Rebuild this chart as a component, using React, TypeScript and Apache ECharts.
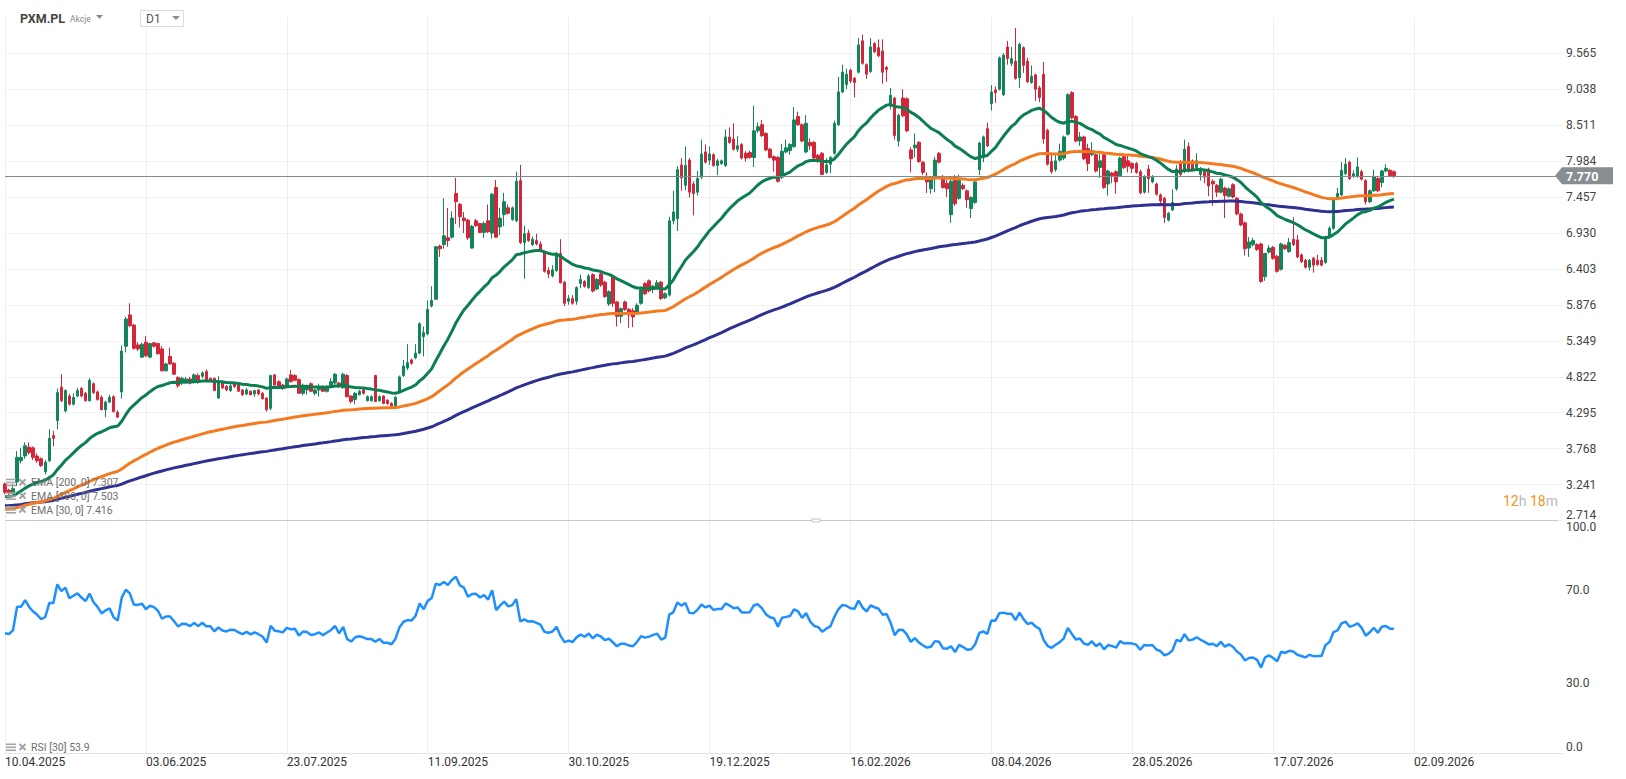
import React, { useEffect, useRef } from "react";
import * as echarts from "echarts";

// ---------- axis ticks ----------
const TICK_LABELS = [
  "10.04.2025", "03.06.2025", "23.07.2025", "11.09.2025", "30.10.2025", "19.12.2025",
  "16.02.2026", "08.04.2026", "28.05.2026", "17.07.2026", "02.09.2026",
];
const TICK_STEP = 35; // trading sessions between date labels
const TOTAL_SLOTS = 388; // sessions shown on the time axis (incl. empty future)
const PRICE_MIN = 2.714;
const PRICE_MAX = 10.092;
const PRICE_STEP = 0.527;
const RSI_TICKS = [0, 30, 70, 100];

// ---------- daily OHLC (PXM.PL) ----------
const OPEN = [
  3.25, 3.16, 3.12, 3.28, 3.59, 3.66, 3.79, 3.78, 3.66, 3.62,
  3.43, 3.59, 3.96, 4.18, 4.67, 4.32, 4.54, 4.42, 4.54, 4.65,
  4.58, 4.47, 4.72, 4.60, 4.52, 4.34, 4.45, 4.53, 4.30, 4.60,
  5.27, 5.73, 5.58, 5.29, 5.11, 5.33, 5.11, 5.32, 5.31, 5.23,
  4.91, 5.12, 5.02, 4.81, 4.74, 4.74, 4.79, 4.74, 4.84, 4.83,
  4.90, 4.80, 4.80, 4.51, 4.75, 4.68, 4.62, 4.73, 4.70, 4.63,
  4.57, 4.61, 4.57, 4.63, 4.58, 4.51, 4.36, 4.85, 4.75, 4.70,
  4.68, 4.85, 4.84, 4.78, 4.58, 4.63, 4.72, 4.58, 4.63, 4.68,
  4.61, 4.68, 4.73, 4.73, 4.66, 4.84, 4.54, 4.49, 4.56, 4.63,
  4.47, 4.47, 4.84, 4.47, 4.54, 4.48, 4.43, 4.39, 4.60, 4.84,
  4.95, 5.07, 5.10, 5.17, 5.41, 5.45, 5.86, 5.96, 6.74, 6.76,
  6.86, 6.87, 7.51, 7.35, 7.15, 7.12, 6.71, 7.11, 7.07, 6.94,
  7.11, 6.93, 7.60, 7.02, 7.20, 7.30, 7.13, 7.11, 7.70, 6.79,
  6.93, 6.76, 6.82, 6.77, 6.64, 6.38, 6.30, 6.38, 6.63, 6.21,
  5.93, 5.97, 5.93, 6.19, 6.22, 6.13, 6.32, 6.11, 6.33, 6.21,
  5.89, 6.29, 5.92, 5.71, 5.92, 5.81, 5.79, 5.76, 5.90, 6.19,
  6.23, 6.12, 6.14, 6.21, 5.98, 6.02, 7.11, 7.14, 7.93, 7.63,
  8.00, 7.65, 7.53, 7.75, 8.12, 8.00, 8.08, 7.92, 7.95, 7.92,
  8.34, 8.31, 8.16, 8.23, 8.10, 8.11, 8.04, 8.43, 8.52, 8.39,
  8.16, 8.05, 8.04, 7.75, 8.12, 8.14, 8.20, 8.64, 8.52, 8.12,
  8.26, 8.26, 8.07, 8.10, 7.82, 7.94, 8.10, 8.52, 9.00, 9.11,
  9.32, 9.20, 9.29, 9.75, 9.40, 9.30, 9.71, 9.65, 9.60, 9.36,
  8.80, 8.91, 8.28, 8.91, 8.90, 8.15, 8.18, 8.26, 7.97, 7.76,
  7.58, 7.73, 8.10, 7.73, 7.66, 7.20, 7.76, 7.44, 7.63, 7.55,
  7.29, 7.38, 7.86, 8.04, 8.46, 8.83, 9.03, 9.04, 8.96, 9.66,
  9.42, 9.45, 9.21, 9.65, 9.45, 9.14, 9.25, 9.06, 9.26, 8.44,
  7.98, 7.86, 8.00, 8.03, 8.38, 8.99, 8.64, 8.28, 8.34, 8.17,
  8.08, 8.08, 7.89, 8.08, 7.65, 7.81, 7.83, 7.77, 8.05, 7.99,
  7.95, 7.95, 7.83, 7.53, 7.87, 7.68, 7.65, 7.49, 7.44, 7.12,
  7.27, 7.58, 7.98, 7.83, 8.20, 7.99, 7.89, 7.79, 7.83, 7.87,
  7.69, 7.63, 7.53, 7.59, 7.47, 7.64, 7.44, 7.21, 7.08, 6.71,
  6.76, 6.76, 6.77, 6.29, 6.65, 6.72, 6.59, 6.40, 6.75, 6.66,
  6.84, 6.83, 6.61, 6.53, 6.43, 6.56, 6.53, 6.53, 6.50, 6.87,
  7.00, 7.46, 7.49, 7.80, 7.97, 7.76, 7.76, 7.83, 7.70, 7.39,
  7.55, 7.73, 7.67, 7.84, 7.85, 7.83,
];
const HIGH = [
  3.27, 3.18, 3.25, 3.73, 3.78, 3.86, 3.86, 3.80, 3.70, 3.64,
  3.60, 4.05, 4.03, 4.65, 4.86, 4.64, 4.57, 4.58, 4.66, 4.67,
  4.60, 4.80, 4.74, 4.62, 4.55, 4.47, 4.56, 4.55, 4.33, 5.28,
  5.70, 5.90, 5.60, 5.33, 5.32, 5.42, 5.32, 5.33, 5.32, 5.27,
  5.03, 5.25, 5.04, 4.83, 4.82, 4.82, 4.82, 4.87, 4.87, 4.90,
  4.93, 4.81, 4.81, 4.83, 4.77, 4.70, 4.71, 4.75, 4.72, 4.64,
  4.66, 4.62, 4.63, 4.64, 4.60, 4.52, 4.85, 4.86, 4.77, 4.72,
  4.81, 4.92, 4.86, 4.80, 4.72, 4.71, 4.74, 4.65, 4.72, 4.70,
  4.70, 4.80, 4.88, 4.75, 4.88, 4.86, 4.55, 4.60, 4.63, 4.65,
  4.55, 4.55, 4.85, 4.55, 4.55, 4.49, 4.45, 4.54, 4.84, 5.07,
  5.30, 5.09, 5.30, 5.62, 5.56, 5.94, 6.15, 6.74, 6.76, 7.44,
  7.30, 7.25, 7.74, 7.37, 7.24, 7.14, 7.05, 7.14, 7.08, 7.10,
  7.35, 7.52, 7.71, 7.30, 7.52, 7.35, 7.32, 7.83, 7.93, 7.04,
  6.98, 6.88, 6.92, 6.81, 6.66, 6.43, 6.46, 6.65, 6.84, 6.23,
  6.02, 6.02, 6.15, 6.32, 6.24, 6.33, 6.34, 6.27, 6.35, 6.23,
  6.09, 6.31, 5.93, 5.84, 5.94, 5.83, 5.83, 5.90, 6.13, 6.21,
  6.25, 6.17, 6.24, 6.23, 6.06, 7.17, 7.55, 7.91, 8.03, 8.20,
  8.03, 7.69, 7.84, 8.30, 8.23, 8.20, 8.10, 8.02, 8.01, 8.45,
  8.48, 8.54, 8.35, 8.25, 8.13, 8.14, 8.80, 8.55, 8.59, 8.41,
  8.18, 8.07, 8.06, 8.24, 8.30, 8.25, 8.78, 8.71, 8.54, 8.66,
  8.32, 8.28, 8.09, 8.12, 8.03, 8.06, 8.58, 9.22, 9.40, 9.34,
  9.34, 9.22, 9.79, 9.84, 9.42, 9.79, 9.73, 9.77, 9.77, 9.38,
  9.06, 8.93, 8.68, 9.04, 8.92, 8.19, 8.39, 8.28, 7.99, 7.82,
  7.74, 8.05, 8.12, 7.78, 7.71, 7.72, 7.78, 7.79, 7.66, 7.57,
  7.47, 7.70, 8.27, 8.36, 8.55, 9.10, 9.08, 9.52, 9.57, 9.75,
  9.66, 9.94, 9.72, 9.67, 9.50, 9.39, 9.27, 9.09, 9.44, 8.46,
  8.11, 8.08, 8.24, 8.36, 8.98, 9.01, 8.66, 8.41, 8.36, 8.24,
  8.26, 8.10, 8.10, 8.10, 7.86, 7.83, 7.85, 8.05, 8.10, 8.07,
  7.97, 7.97, 7.86, 7.78, 7.93, 7.78, 7.67, 7.51, 7.46, 7.24,
  7.57, 7.93, 8.00, 8.30, 8.26, 8.01, 8.10, 7.90, 7.86, 7.89,
  7.72, 7.65, 7.74, 7.61, 7.60, 7.66, 7.46, 7.23, 7.10, 6.87,
  6.86, 6.78, 6.79, 6.64, 6.75, 6.74, 6.61, 6.79, 6.77, 6.86,
  7.16, 6.90, 6.63, 6.55, 6.55, 6.58, 6.61, 6.58, 6.89, 7.03,
  7.45, 7.59, 7.97, 8.03, 7.99, 7.85, 8.04, 7.86, 7.72, 7.57,
  7.86, 7.75, 7.86, 7.94, 7.87, 7.85,
];
const LOW = [
  3.10, 3.08, 3.10, 3.22, 3.55, 3.62, 3.68, 3.60, 3.56, 3.50,
  3.39, 3.57, 3.80, 4.05, 4.45, 4.30, 4.40, 4.40, 4.52, 4.52,
  4.46, 4.46, 4.57, 4.47, 4.33, 4.23, 4.44, 4.30, 4.22, 4.50,
  5.18, 5.55, 5.22, 5.20, 5.10, 5.11, 5.10, 5.25, 5.15, 4.90,
  4.90, 5.00, 4.85, 4.66, 4.70, 4.72, 4.71, 4.72, 4.72, 4.80,
  4.76, 4.75, 4.61, 4.50, 4.64, 4.61, 4.60, 4.66, 4.60, 4.54,
  4.55, 4.55, 4.53, 4.55, 4.49, 4.31, 4.33, 4.69, 4.66, 4.63,
  4.66, 4.74, 4.76, 4.57, 4.55, 4.56, 4.60, 4.55, 4.53, 4.60,
  4.59, 4.66, 4.71, 4.66, 4.65, 4.52, 4.43, 4.42, 4.55, 4.56,
  4.46, 4.46, 4.45, 4.46, 4.42, 4.41, 4.37, 4.38, 4.58, 4.82,
  4.92, 5.00, 5.08, 5.15, 5.12, 5.43, 5.84, 5.95, 6.58, 6.70,
  6.73, 6.85, 7.06, 7.01, 6.93, 6.83, 6.70, 7.02, 6.93, 6.86,
  6.93, 6.85, 6.86, 6.90, 7.03, 7.20, 7.11, 7.09, 6.77, 6.26,
  6.80, 6.74, 6.75, 6.67, 6.35, 6.27, 6.28, 6.36, 6.19, 5.86,
  5.88, 5.88, 5.88, 6.12, 6.13, 6.11, 6.06, 6.09, 6.14, 5.98,
  5.86, 5.85, 5.56, 5.61, 5.79, 5.54, 5.55, 5.74, 5.88, 6.02,
  6.06, 6.05, 6.12, 5.95, 5.96, 6.00, 7.06, 6.96, 7.55, 7.56,
  7.45, 7.19, 7.48, 7.72, 7.95, 7.93, 7.90, 7.78, 7.93, 7.90,
  8.24, 8.14, 8.12, 8.01, 7.98, 8.02, 7.90, 8.40, 8.34, 8.13,
  8.02, 7.83, 7.67, 7.72, 8.10, 8.08, 8.18, 8.50, 8.26, 8.10,
  8.15, 8.01, 7.96, 7.78, 7.80, 7.81, 8.08, 8.50, 8.98, 9.04,
  9.13, 8.92, 9.27, 9.40, 9.19, 9.28, 9.57, 9.51, 9.12, 9.15,
  8.74, 8.30, 8.20, 8.63, 8.41, 7.82, 8.04, 7.96, 7.78, 7.52,
  7.51, 7.53, 7.95, 7.58, 7.46, 7.08, 7.33, 7.42, 7.56, 7.30,
  7.15, 7.36, 7.78, 7.97, 8.19, 8.73, 8.84, 9.02, 8.94, 9.40,
  9.38, 9.18, 9.06, 9.28, 9.13, 9.12, 8.87, 8.85, 8.24, 7.92,
  7.80, 7.83, 7.98, 8.00, 8.36, 8.60, 8.26, 8.21, 8.00, 7.84,
  8.06, 7.82, 7.74, 7.58, 7.48, 7.66, 7.51, 7.75, 7.87, 7.82,
  7.81, 7.80, 7.50, 7.51, 7.52, 7.66, 7.48, 7.35, 7.08, 7.10,
  7.25, 7.55, 7.77, 7.81, 7.82, 7.85, 7.87, 7.70, 7.66, 7.47,
  7.33, 7.46, 7.51, 7.15, 7.45, 7.44, 7.19, 7.03, 6.60, 6.58,
  6.73, 6.67, 6.20, 6.23, 6.63, 6.54, 6.35, 6.38, 6.68, 6.64,
  6.74, 6.56, 6.49, 6.41, 6.38, 6.35, 6.45, 6.44, 6.48, 6.85,
  6.98, 7.44, 7.47, 7.78, 7.71, 7.74, 7.74, 7.70, 7.35, 7.37,
  7.53, 7.53, 7.60, 7.82, 7.75, 7.74,
];
const CLOSE = [
  3.13, 3.12, 3.18, 3.64, 3.64, 3.81, 3.71, 3.64, 3.59, 3.52,
  3.57, 3.92, 3.92, 4.59, 4.47, 4.62, 4.42, 4.52, 4.62, 4.54,
  4.47, 4.77, 4.59, 4.49, 4.34, 4.45, 4.52, 4.31, 4.23, 5.20,
  5.67, 5.57, 5.24, 5.23, 5.30, 5.13, 5.31, 5.27, 5.16, 4.91,
  5.01, 5.01, 4.86, 4.69, 4.80, 4.79, 4.73, 4.85, 4.75, 4.88,
  4.77, 4.77, 4.62, 4.75, 4.66, 4.63, 4.69, 4.68, 4.61, 4.56,
  4.63, 4.56, 4.62, 4.57, 4.50, 4.34, 4.84, 4.70, 4.68, 4.65,
  4.79, 4.75, 4.77, 4.58, 4.70, 4.69, 4.61, 4.63, 4.68, 4.61,
  4.68, 4.75, 4.86, 4.68, 4.86, 4.53, 4.46, 4.58, 4.61, 4.58,
  4.53, 4.53, 4.46, 4.53, 4.43, 4.43, 4.39, 4.52, 4.82, 4.98,
  5.03, 5.02, 5.17, 5.60, 5.47, 5.81, 5.94, 6.73, 6.70, 6.89,
  6.82, 7.15, 7.39, 7.17, 7.11, 6.86, 7.03, 7.04, 6.94, 7.07,
  6.95, 7.50, 6.87, 7.15, 7.39, 7.22, 7.30, 7.69, 6.79, 6.92,
  6.82, 6.84, 6.77, 6.69, 6.37, 6.33, 6.39, 6.63, 6.20, 5.90,
  5.97, 5.90, 6.13, 6.25, 6.15, 6.30, 6.08, 6.25, 6.17, 6.00,
  6.07, 5.90, 5.71, 5.82, 5.81, 5.73, 5.70, 5.87, 6.10, 6.04,
  6.08, 6.15, 6.20, 5.97, 6.04, 7.11, 7.24, 7.86, 7.74, 7.92,
  7.53, 7.51, 7.73, 8.09, 7.97, 8.09, 7.92, 7.99, 7.99, 8.34,
  8.26, 8.16, 8.21, 8.03, 8.03, 8.04, 8.43, 8.49, 8.36, 8.15,
  8.04, 8.00, 7.69, 8.13, 8.18, 8.23, 8.59, 8.52, 8.28, 8.54,
  8.21, 8.03, 7.98, 7.79, 7.93, 8.04, 8.54, 9.00, 9.29, 9.26,
  9.16, 9.14, 9.69, 9.42, 9.26, 9.66, 9.59, 9.53, 9.29, 9.33,
  8.95, 8.36, 8.66, 8.65, 8.43, 8.02, 8.22, 7.98, 7.82, 7.68,
  7.72, 8.00, 7.97, 7.60, 7.58, 7.69, 7.36, 7.70, 7.58, 7.42,
  7.45, 7.68, 8.25, 8.34, 8.21, 9.00, 8.99, 9.50, 9.54, 9.49,
  9.49, 9.20, 9.70, 9.39, 9.15, 9.23, 9.04, 8.92, 8.31, 7.94,
  7.83, 7.99, 8.13, 8.34, 8.96, 8.62, 8.28, 8.34, 8.02, 7.95,
  8.14, 7.84, 7.99, 7.60, 7.84, 7.77, 7.68, 8.03, 7.89, 7.91,
  7.88, 7.82, 7.52, 7.76, 7.73, 7.75, 7.50, 7.40, 7.16, 7.22,
  7.38, 7.87, 7.79, 8.16, 7.84, 7.87, 7.99, 7.86, 7.75, 7.62,
  7.65, 7.53, 7.72, 7.48, 7.58, 7.46, 7.21, 7.05, 6.70, 6.80,
  6.82, 6.69, 6.22, 6.63, 6.71, 6.56, 6.37, 6.77, 6.70, 6.79,
  6.76, 6.58, 6.51, 6.43, 6.53, 6.46, 6.47, 6.46, 6.87, 7.00,
  7.43, 7.51, 7.85, 7.94, 7.73, 7.80, 7.90, 7.72, 7.39, 7.55,
  7.76, 7.55, 7.84, 7.88, 7.77, 7.77,
];

// ---------- indicators (state carried in from the history before the window) ----------
const EMA_PERIODS = [200, 100, 30];
const EMA_PRIOR = [2.93, 2.875, 3.06];
const EMA_COLORS = ["#2e3192", "#f47a1f", "#0b7f52"];
const EMA_LEGEND_VALUES = ["7.307", "7.503", "7.416"];
const RSI_PERIOD = 30;
const RSI_PRIOR_CLOSE = 3.22;
const RSI_PRIOR_GAIN = 0.032;
const RSI_PRIOR_LOSS = 0.027;
const RSI_LEGEND_VALUE = "53.9";

const GREEN = "#12865a";
const RED = "#d4263a";

function ema(period: number, prior: number): number[] {
  const k = 2 / (period + 1);
  let prev = prior;
  return CLOSE.map((c) => {
    prev = prev + k * (c - prev);
    return +prev.toFixed(4);
  });
}

function rsi(): number[] {
  let g = RSI_PRIOR_GAIN;
  let l = RSI_PRIOR_LOSS;
  let prevC = RSI_PRIOR_CLOSE;
  return CLOSE.map((c) => {
    const ch = c - prevC;
    prevC = c;
    g = (g * (RSI_PERIOD - 1) + Math.max(ch, 0)) / RSI_PERIOD;
    l = (l * (RSI_PERIOD - 1) + Math.max(-ch, 0)) / RSI_PERIOD;
    return +(100 - 100 / (1 + g / l)).toFixed(2);
  });
}

const FONT = "Roboto, 'Noto Sans', sans-serif";

function legendRow(y: number, label: string): any[] {
  const c = "#a3a3a3";
  return [
    { type: "rect", shape: { x: 6, y: y - 4, width: 10, height: 1.6 }, style: { fill: c }, z: 100 },
    { type: "rect", shape: { x: 6, y: y - 1, width: 10, height: 1.6 }, style: { fill: c }, z: 100 },
    { type: "rect", shape: { x: 6, y: y + 2, width: 10, height: 1.6 }, style: { fill: c }, z: 100 },
    { type: "line", shape: { x1: 19.5, y1: y - 3.5, x2: 25.5, y2: y + 2.5 }, style: { stroke: c, lineWidth: 2 }, z: 100 },
    { type: "line", shape: { x1: 19.5, y1: y + 2.5, x2: 25.5, y2: y - 3.5 }, style: { stroke: c, lineWidth: 2 }, z: 100 },
    {
      type: "text",
      x: 31,
      y,
      z: 100,
      style: { text: label, fill: "#6f6f6f", font: `10.5px ${FONT}`, verticalAlign: "middle", align: "left" },
    },
  ];
}

function buildGraphics(tagY: number): any[] {
  const g: any[] = [];
  // header
  g.push({ type: "text", x: 20, y: 18, style: { text: "PXM.PL", fill: "#444", font: `bold 12.5px ${FONT}`, verticalAlign: "middle" }, z: 100 });
  g.push({ type: "text", x: 70, y: 19, style: { text: "Akcje", fill: "#8a8a8a", font: `8.5px ${FONT}`, verticalAlign: "middle" }, z: 100 });
  g.push({ type: "polygon", shape: { points: [[96, 15], [103, 15], [99.5, 19]] }, style: { fill: "#8a8a8a" }, z: 100 });
  g.push({ type: "rect", shape: { x: 140.5, y: 10.5, width: 43, height: 16 }, style: { fill: "#fff", stroke: "#dcdcdc", lineWidth: 1 }, z: 100 });
  g.push({ type: "text", x: 146, y: 19, style: { text: "D1", fill: "#555", font: `12px ${FONT}`, verticalAlign: "middle" }, z: 101 });
  g.push({ type: "polygon", shape: { points: [[172, 16], [180, 16], [176, 20]] }, style: { fill: "#8a8a8a" }, z: 101 });

  // EMA legend (top to bottom: 200, 100, 30)
  const rowsY = [482.7, 496.3, 510];
  EMA_PERIODS.forEach((p, i) => {
    g.push(...legendRow(rowsY[i], `EMA [${p}, 0] ${EMA_LEGEND_VALUES[i]}`));
  });
  // RSI legend
  g.push(...legendRow(747.5, `RSI [${RSI_PERIOD}] ${RSI_LEGEND_VALUE}`));

  // panel separator and handle
  g.push({ type: "line", shape: { x1: 5, y1: 520.5, x2: 1558, y2: 520.5 }, style: { stroke: "#c9c9c9", lineWidth: 1 }, z: 50 });
  g.push({ type: "rect", shape: { x: 812, y: 519, width: 8, height: 3 }, style: { fill: "#fff", stroke: "#b5b5b5", lineWidth: 0.8 }, z: 51 });

  // countdown
  g.push({
    type: "text",
    x: 1503,
    y: 501,
    z: 100,
    style: {
      text: "{o|12}{g|h} {o|18}{g|m}",
      font: `14px ${FONT}`,
      verticalAlign: "middle",
      rich: {
        o: { fill: "#f7931e", font: `14px ${FONT}` },
        g: { fill: "#b9b9b9", font: `14px ${FONT}` },
      },
    },
  });

  // last price tag
  if (isFinite(tagY)) {
    g.push({
      type: "polygon",
      z: 110,
      shape: { points: [[1555, tagY], [1562, tagY - 8.5], [1613, tagY - 8.5], [1613, tagY + 8.5], [1562, tagY + 8.5]] },
      style: { fill: "#868e91" },
    });
    g.push({
      type: "text",
      x: 1566,
      y: tagY + 0.5,
      z: 111,
      style: { text: CLOSE[CLOSE.length - 1].toFixed(3), fill: "#fff", font: `bold 12.5px ${FONT}`, verticalAlign: "middle" },
    });
  }
  return g;
}

export default function App() {
  const ref = useRef<HTMLDivElement>(null);

  useEffect(() => {
    if (!ref.current) return;
    const chart = echarts.init(ref.current, undefined, { renderer: "svg" });

    const slots = Array.from({ length: TOTAL_SLOTS }, (_, i) => String(i));
    const candles = OPEN.map((o, i) => [o, CLOSE[i], LOW[i], HIGH[i]]);
    const emas = EMA_PERIODS.map((p, i) => ema(p, EMA_PRIOR[i]));
    const rsiData = rsi();
    const lastTick = (TICK_LABELS.length - 1) * TICK_STEP;
    const isTick = (idx: number) => idx % TICK_STEP === 0 && idx <= lastTick;

    // one colour per horizontal price line, the top (max) line left invisible
    const priceLineCount = Math.round((PRICE_MAX - PRICE_MIN) / PRICE_STEP) + 1;
    const priceLineColors = Array.from({ length: priceLineCount }, (_, i) =>
      i === priceLineCount - 1 ? "rgba(0,0,0,0)" : "#f0f0f0"
    );

    const xBase = (gridIndex: number, showLabels: boolean) => ({
      type: "category",
      gridIndex,
      data: slots,
      boundaryGap: false,
      axisTick: { show: false },
      axisLine: { show: showLabels, lineStyle: { color: "#e4e4e4" } },
      axisLabel: {
        show: showLabels,
        interval: (idx: number) => isTick(idx),
        formatter: (_v: string, idx: number) => (isTick(idx) ? TICK_LABELS[idx / TICK_STEP] : ""),
        align: "left",
        color: "#333",
        fontSize: 12,
        fontFamily: FONT,
        margin: 3,
      },
      splitLine: { show: true, interval: (idx: number) => isTick(idx), lineStyle: { color: "#efefef", width: 1 } },
    });

    chart.setOption({
      animation: false,
      backgroundColor: "#fff",
      textStyle: { fontFamily: FONT },
      grid: [
        { left: 5, right: 63, top: 17.5, height: 503 },
        { left: 5, right: 63, top: 520.5, height: 232.8 },
      ],
      xAxis: [xBase(0, false), xBase(1, true)],
      yAxis: [
        {
          type: "value",
          gridIndex: 0,
          position: "right",
          min: PRICE_MIN,
          max: PRICE_MAX,
          interval: PRICE_STEP,
          axisLine: { show: false },
          axisTick: { show: false },
          axisLabel: {
            formatter: (v: number) => v.toFixed(3),
            color: "#444",
            fontSize: 12,
            fontFamily: FONT,
            margin: 3,
            showMaxLabel: false,
            verticalAlignMinLabel: "bottom",
          },
          splitLine: { showMaxLine: false, lineStyle: { color: priceLineColors } },
        },
        {
          type: "value",
          gridIndex: 1,
          position: "right",
          min: 0,
          max: 100,
          interval: 10,
          axisLine: { show: false },
          axisTick: { show: false },
          axisLabel: {
            formatter: (v: number) => (RSI_TICKS.includes(Math.round(v)) ? v.toFixed(1) : ""),
            color: "#444",
            fontSize: 12,
            fontFamily: FONT,
            margin: 3,
            verticalAlignMinLabel: "bottom",
            verticalAlignMaxLabel: "top",
          },
          splitLine: { show: false },
        },
      ],
      series: [
        {
          type: "candlestick",
          xAxisIndex: 0,
          yAxisIndex: 0,
          data: candles,
          barWidth: 3,
          itemStyle: { color: GREEN, color0: RED, borderColor: GREEN, borderColor0: RED, borderWidth: 1 },
          markLine: {
            silent: true,
            symbol: "none",
            label: { show: false },
            lineStyle: { color: "#7f8b8f", width: 1, type: "solid" },
            data: [{ yAxis: CLOSE[CLOSE.length - 1] }],
          },
          z: 2,
        },
        ...EMA_PERIODS.map((p, i) => ({
          name: `EMA ${p}`,
          type: "line",
          xAxisIndex: 0,
          yAxisIndex: 0,
          data: emas[i],
          showSymbol: false,
          symbol: "none",
          lineStyle: { color: EMA_COLORS[i], width: 3 },
          z: 3,
        })),
        {
          name: "RSI",
          type: "line",
          xAxisIndex: 1,
          yAxisIndex: 1,
          data: rsiData,
          showSymbol: false,
          symbol: "none",
          lineStyle: { color: "#1e8fff", width: 2.5 },
          z: 3,
        },
      ],
    });

    const tagY = chart.convertToPixel({ yAxisIndex: 0 }, CLOSE[CLOSE.length - 1]) as number;
    chart.setOption({ graphic: buildGraphics(tagY) });

    return () => chart.dispose();
  }, []);

  return (
    <div
      ref={ref}
      style={{ position: "fixed", left: 0, top: 0, width: 1626, height: 779, background: "#fff" }}
    />
  );
}
